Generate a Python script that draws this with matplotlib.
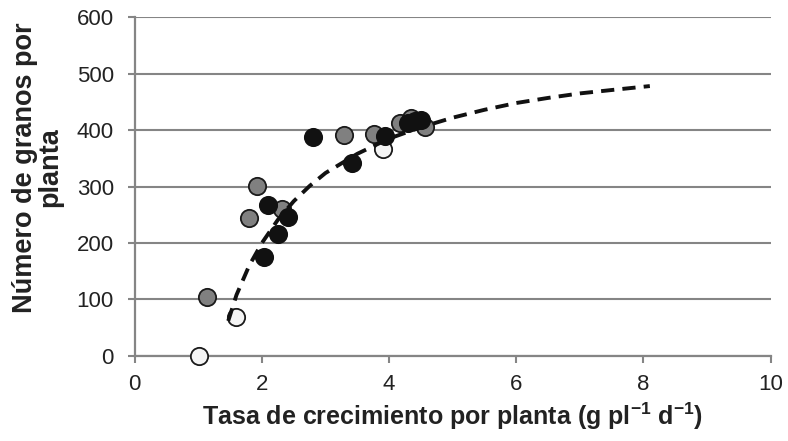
import matplotlib
matplotlib.use("Agg")
import matplotlib.pyplot as plt

plt.rcParams['font.family'] = ['Liberation Sans', 'DejaVu Sans']
plt.rcParams['mathtext.fontset'] = 'custom'
plt.rcParams['mathtext.rm'] = 'Liberation Sans'
plt.rcParams['mathtext.bf'] = 'Liberation Sans:bold'

# Observed plant growth rate (g pl-1 d-1) vs kernel number per plant, by group
white_x = [1.01, 1.60, 3.90]
white_y = [0, 69, 366]

gray_x = [1.13, 1.79, 1.93, 2.31, 3.29, 3.77, 4.17, 4.34, 4.56]
gray_y = [105, 244, 301, 260, 391, 393, 412, 421, 405]

black_x = [2.03, 2.09, 2.26, 2.41, 2.80, 3.41, 3.93, 4.30, 4.40, 4.50]
black_y = [175, 267, 216, 246, 387, 341, 389, 412, 416, 417]

# Fitted response curve
fit_x = [1.47, 1.6, 1.8, 2.0, 2.25, 2.5, 2.75, 3.0, 3.5, 4.0, 4.5, 5.0,
         5.5, 6.0, 6.5, 7.0, 7.5, 8.1]
fit_y = [62, 108, 160, 200, 241, 274, 301, 324, 358, 385, 405, 422,
         436, 448, 457, 465, 471, 478]

x_ticks = [0, 2, 4, 6, 8, 10]
y_ticks = [0, 100, 200, 300, 400, 500, 600]

fig = plt.figure(figsize=(7.88, 4.41), dpi=100)
ax = fig.add_axes([0.171, 0.193, 0.807, 0.768])

grid_color = '#858585'
ax.set_xlim(0, 10)
ax.set_ylim(0, 600)
ax.set_xticks(x_ticks)
ax.set_yticks(y_ticks)
ax.yaxis.grid(True, color=grid_color, linewidth=1.5, zorder=0)
ax.set_axisbelow(True)
for side in ('top', 'right'):
    ax.spines[side].set_visible(False)
for side in ('left', 'bottom'):
    ax.spines[side].set_color(grid_color)
    ax.spines[side].set_linewidth(1.6)
ax.tick_params(axis='both', direction='out', length=5, width=1.5,
               color=grid_color, labelsize=16, labelcolor='#222222')
ax.tick_params(axis='x', pad=8)
ax.tick_params(axis='y', pad=10)

msize = 155
ax.scatter(white_x, white_y, s=msize, facecolor='#f4f4f4', edgecolor='#1a1a1a',
           linewidth=1.3, zorder=3, clip_on=False)
ax.scatter(gray_x, gray_y, s=msize, facecolor='#808080', edgecolor='#1a1a1a',
           linewidth=1.3, zorder=3, clip_on=False)
ax.scatter(black_x, black_y, s=msize, facecolor='#111111', edgecolor='#111111',
           linewidth=1.3, zorder=3, clip_on=False)

ax.plot(fit_x, fit_y, color='#111111', linewidth=2.8, linestyle=(0, (3.4, 2.1)),
        zorder=4)

ax.set_xlabel(r'Tasa de crecimiento por planta (g pl$^{\mathbf{-1}}$ d$^{\mathbf{-1}}$)',
              fontsize=18, fontweight='bold', color='#222222', labelpad=4)
ax.set_ylabel('Número de granos por\nplanta', fontsize=19.5, fontweight='bold',
              color='#222222', linespacing=1.0)
ax.yaxis.set_label_coords(-0.112, 0.556)

fig.savefig('out.png', dpi=100)
